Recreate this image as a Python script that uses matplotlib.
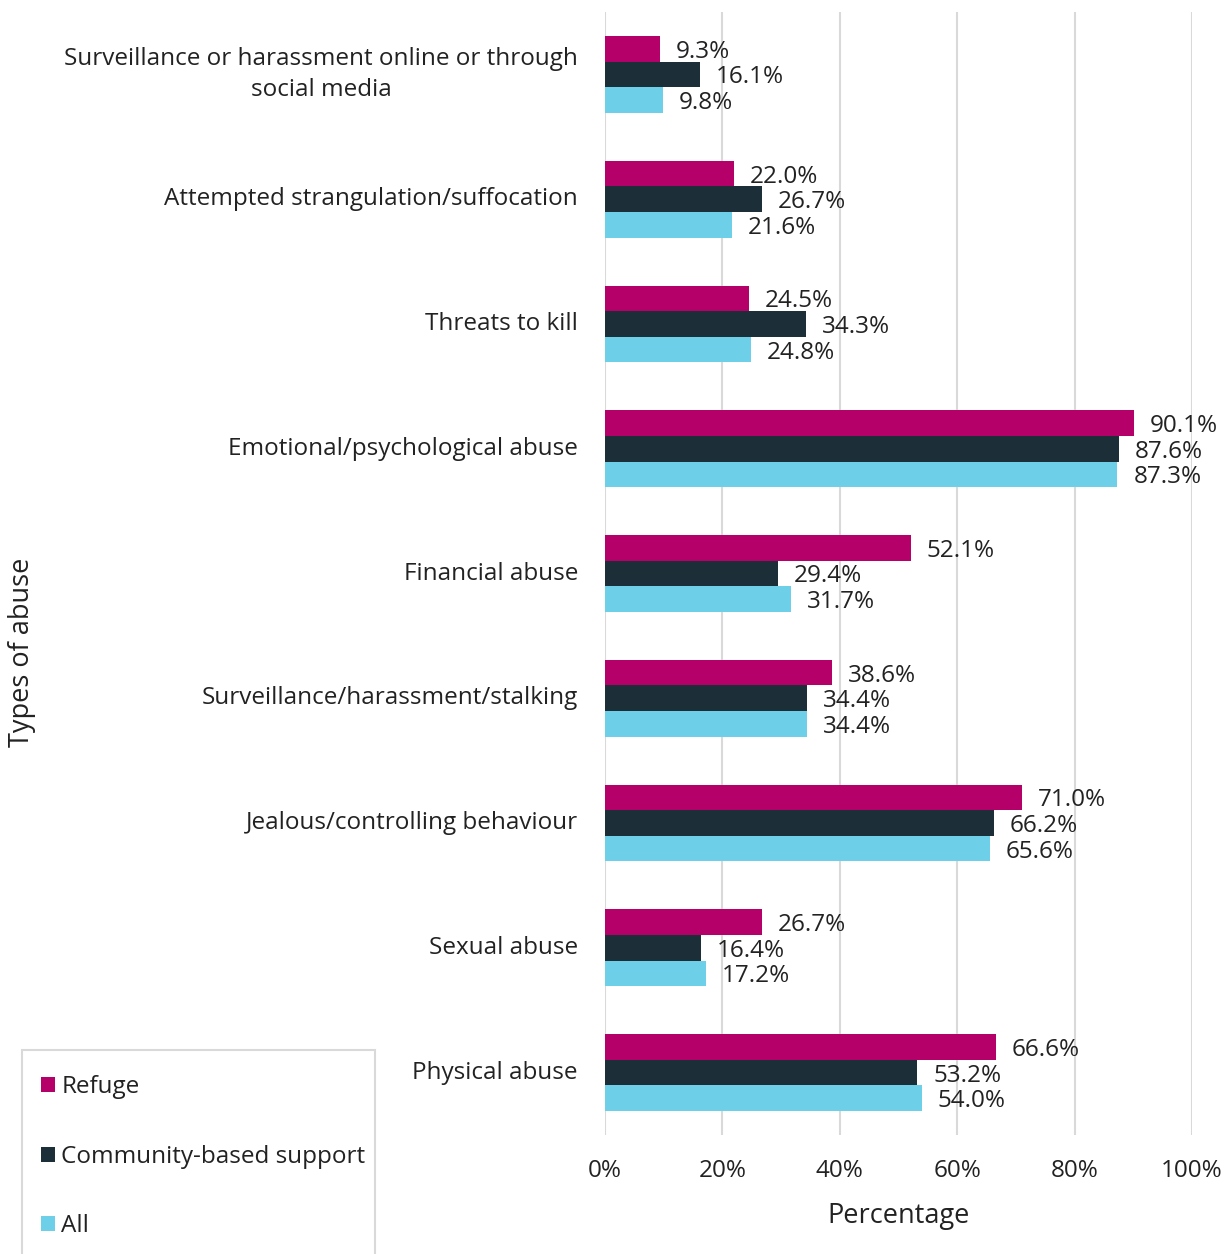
import matplotlib
matplotlib.use("Agg")
import matplotlib.pyplot as plt
from matplotlib.patches import Rectangle
import numpy as np

plt.rcParams['font.family'] = ['Open Sans', 'DejaVu Sans']

categories = [
    "Physical abuse",
    "Sexual abuse",
    "Jealous/controlling behaviour",
    "Surveillance/harassment/stalking",
    "Financial abuse",
    "Emotional/psychological abuse",
    "Threats to kill",
    "Attempted strangulation/suffocation",
    "Surveillance or harassment online or through\nsocial media",
]
refuge = [66.6, 26.7, 71.0, 38.6, 52.1, 90.1, 24.5, 22.0, 9.3]
community = [53.2, 16.4, 66.2, 34.4, 29.4, 87.6, 34.3, 26.7, 16.1]
all_vals = [54.0, 17.2, 65.6, 34.4, 31.7, 87.3, 24.8, 21.6, 9.8]
series_names = ["Refuge", "Community-based support", "All"]
colors = ["#B5006A", "#1C2E37", "#6DCFE8"]
xticks = [0, 20, 40, 60, 80, 100]

W, H = 1229, 1254
fig = plt.figure(figsize=(W / 100, H / 100), dpi=100)
ax = fig.add_axes([605 / W, 1 - 1135 / H, (1192 - 605) / W, (1135 - 12) / H])

y = np.arange(len(categories))
bh = 0.205
text_color = "#222222"
fs = 17.5
series = [refuge, community, all_vals]
for k, (vals, c, name) in enumerate(zip(series, colors, series_names)):
    pos = y + bh * (1 - k)
    ax.barh(pos, vals, height=bh, color=c, label=name, zorder=3)
    for p, v in zip(pos, vals):
        ax.annotate(f"{v:.1f}%", xy=(v, p), xytext=(16, -3), textcoords="offset pixels",
                    va="center", ha="left", fontsize=fs, color=text_color, zorder=4)

ax.set_xlim(0, 100)
ax.set_ylim(-0.5, len(categories) - 0.5)
ax.set_xticks(xticks)
ax.set_xticklabels([f"{t}%" for t in xticks], fontsize=fs, color=text_color)
ax.set_yticks(y)
ax.set_yticklabels(categories, fontsize=fs, color=text_color,
                   multialignment="center", linespacing=1.4, va="center")
ax.tick_params(axis="both", length=0)
ax.tick_params(axis="y", pad=19.5)
ax.tick_params(axis="x", pad=17)
ax.grid(axis="x", color="#D9D9D9", linewidth=1.5, zorder=0)
for s in ax.spines.values():
    s.set_visible(False)
ax.set_xlabel("Percentage", fontsize=19.5, color=text_color, labelpad=14)

fig.text(22 / W, 1 - 652 / H, "Types of abuse", rotation=90, fontsize=19.5,
         color=text_color, ha="center", va="center")

# legend frame
fig.patches.append(Rectangle((22 / W, 1 - 1262 / H), (375 - 22) / W, (1262 - 1050) / H,
                             transform=fig.transFigure, facecolor="white",
                             edgecolor="#D9D9D9", linewidth=1.5, zorder=1))

leg = fig.legend(loc="upper left", bbox_to_anchor=(41 / W, 1 - 1075 / H),
                 fontsize=fs, frameon=False,
                 borderpad=0, labelspacing=1.88, handlelength=0.58, handleheight=0.58,
                 handletextpad=0.25, borderaxespad=0)
leg.set_zorder(2)
for t in leg.get_texts():
    t.set_color(text_color)

fig.savefig("out.png", dpi=100)
